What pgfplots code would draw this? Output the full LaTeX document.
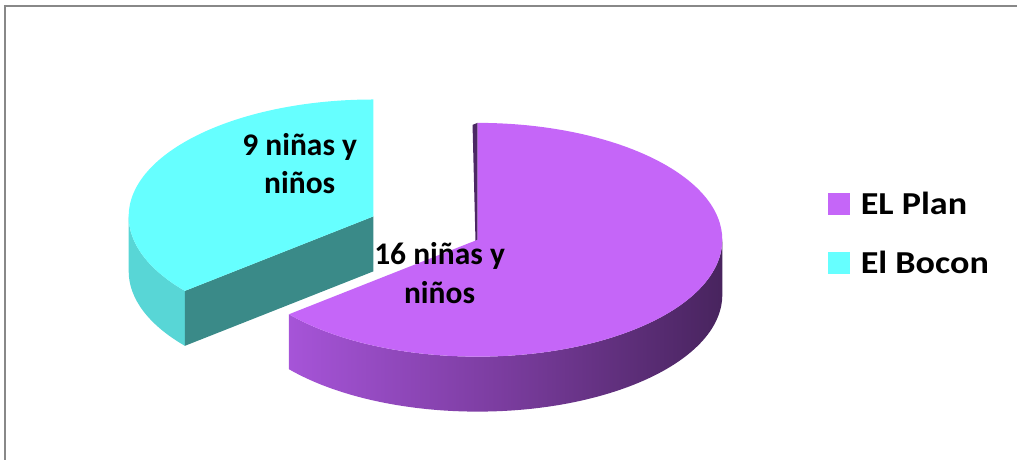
\documentclass[border=0pt]{standalone}
\usepackage{pgfplots}
\usepackage{pgfplotstable}
\usepackage{fontspec}
\pgfplotsset{compat=1.18}
\setmainfont{Carlito}
\newfontfamily\legfont{Carlito}[FakeStretch=1.13]

\definecolor{pTop}{RGB}{197,102,248}
\definecolor{pSideL}{RGB}{166,84,216}
\definecolor{pSideM}{RGB}{122,60,158}
\definecolor{pSideR}{RGB}{72,36,94}
\definecolor{pDark}{RGB}{76,40,100}
\definecolor{cTop}{RGB}{102,255,255}
\definecolor{cSide}{RGB}{88,214,214}
\definecolor{cCut}{RGB}{58,138,136}
\definecolor{frameGray}{RGB}{136,136,136}

% number of children per place
\pgfplotstableread{
name value
{EL Plan} 16
{El Bocon} 9
}\pietable

\begin{document}
\begin{tikzpicture}
\pgfplotstablegetelem{0}{value}\of\pietable \let\vA\pgfplotsretval
\pgfplotstablegetelem{1}{value}\of\pietable \let\vB\pgfplotsretval
% geometry of the projected pie (pixel units, y downwards)
\pgfmathsetmacro\cx{478}\pgfmathsetmacro\cy{240}
\pgfmathsetmacro\rx{245}\pgfmathsetmacro\ry{117}
\pgfmathsetmacro\dep{55}
\pgfmathsetmacro\tot{\vA+\vB}
\pgfmathsetmacro\pEnd{90-360*\vA/\tot}   % purple runs clockwise from 90
\pgfmathsetmacro\cEnd{90+360*\vB/\tot}   % cyan runs counter-clockwise from 90
\pgfmathsetmacro\cMid{(90+\cEnd)/2}
\pgfmathsetmacro\cxB{\cx+0.47*\rx*cos(\cMid)}
\pgfmathsetmacro\cyB{\cy-0.47*\ry*sin(\cMid)}
% rim points
\pgfmathsetmacro\pSx{\cx+\rx*cos(\pEnd)}\pgfmathsetmacro\pSy{\cy-\ry*sin(\pEnd)}
\pgfmathsetmacro\pTx{\cx}\pgfmathsetmacro\pTy{\cy-\ry}
\pgfmathsetmacro\pRx{\cx+\rx}
\pgfmathsetmacro\pRyb{\cy+\dep}
\pgfmathsetmacro\cLx{\cxB-\rx}\pgfmathsetmacro\cLy{\cyB}
\pgfmathsetmacro\cEx{\cxB+\rx*cos(\cEnd)}\pgfmathsetmacro\cEy{\cyB-\ry*sin(\cEnd)}
\pgfmathsetmacro\cTx{\cxB}\pgfmathsetmacro\cTy{\cyB-\ry}
\begin{axis}[
  width=1018pt, height=460pt, scale only axis,
  xmin=0, xmax=1018, ymin=0, ymax=460, y dir=reverse,
  hide axis, clip=false,
  legend style={draw=none, fill=none, at={(axis cs:829,190)}, anchor=north west,
    font=\fontsize{32}{38}\legfont\bfseries, row sep=31pt,
    cells={anchor=west}, inner sep=0pt,
    /tikz/every odd column/.append style={column sep=9pt}},
  legend image code/.code={\fill[#1] (-10.5pt,-10.5pt) rectangle (10.5pt,10.5pt);},
]
\path (axis cs:0,0) rectangle (axis cs:1018,460);
\addlegendimage{pTop}
\addlegendimage{cTop}
\legend{EL Plan, El Bocon}
% frame
\draw[frameGray, line width=2pt] (axis cs:4,5.7) -- (axis cs:1018,5.7);
\draw[frameGray, line width=2pt] (axis cs:5.3,5) -- (axis cs:5.3,460);
% cyan slice (exploded)
\fill[cSide] (axis cs:\cLx,\cLy) arc[start angle=180, end angle=\cEnd, x radius=\rx pt, y radius=\ry pt]
  -- (axis cs:\cEx,{\cEy+\dep}) arc[start angle=\cEnd, end angle=180, x radius=\rx pt, y radius=\ry pt] -- cycle;
\fill[cCut] (axis cs:\cxB,\cyB) -- (axis cs:\cEx,\cEy) -- (axis cs:\cEx,{\cEy+\dep}) -- (axis cs:\cxB,{\cyB+\dep}) -- cycle;
\fill[cTop] (axis cs:\cxB,\cyB) -- (axis cs:\cTx,\cTy)
  arc[start angle=90, end angle=\cEnd, x radius=\rx pt, y radius=\ry pt] -- cycle;
% purple slice
\fill[pDark] (axis cs:\cx,\cy) -- (axis cs:\pTx,\pTy) -- (axis cs:{\pTx-5},{\pTy+2}) -- (axis cs:{\cx-2},{\cy+3}) -- cycle;
\shade[left color=pSideL, right color=pSideR, middle color=pSideM]
  (axis cs:\pSx,\pSy) arc[start angle=\pEnd, end angle=0, x radius=\rx pt, y radius=\ry pt]
  -- (axis cs:\pRx,\pRyb) arc[start angle=0, end angle=\pEnd, x radius=\rx pt, y radius=\ry pt] -- cycle;
\fill[pTop] (axis cs:\cx,\cy) -- (axis cs:\pSx,\pSy)
  arc[start angle=\pEnd, end angle=90, x radius=\rx pt, y radius=\ry pt] -- cycle;
% data labels
\begin{scope}[every node/.style={font=\fontsize{31.5}{38}\selectfont\bfseries, anchor=base, inner sep=0pt}]
\node at (axis cs:300,156) {\vB{} niñas y};
\node at (axis cs:300,194) {niños};
\node at (axis cs:440,265) {\vA{} niñas y};
\node at (axis cs:440,304) {niños};
\end{scope}
\end{axis}
\end{tikzpicture}
\end{document}
